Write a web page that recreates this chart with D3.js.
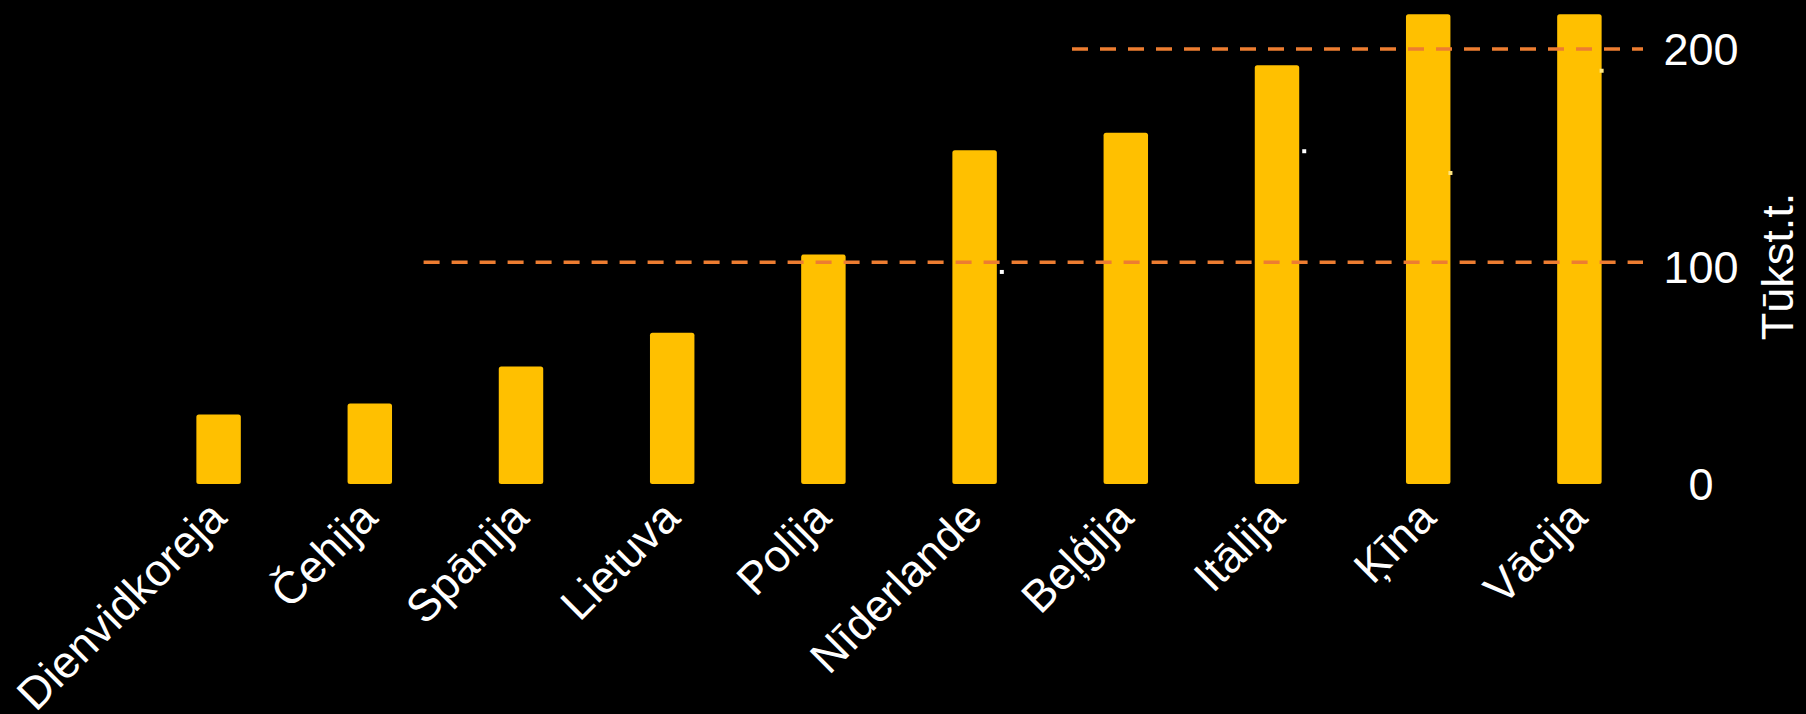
<!DOCTYPE html>
<html>
<head>
<meta charset="utf-8">
<script src="https://cdn.jsdelivr.net/npm/d3@7"></script>
<style>
  html, body { margin: 0; padding: 0; background: #000; }
  svg { display: block; }
</style>
</head>
<body>
<svg id="chart" width="1806" height="714"></svg>
<script>
const categories = ["Dienvidkoreja", "Čehija", "Spānija", "Lietuva", "Polija", "Nīderlande", "Beļģija", "Itālija", "Ķīna", "Vācija"];
const values = [32, 37, 54, 69.5, 105.5, 153.5, 161.5, 192.5, 216, 216];
const yTicks = [0, 100, 200];
const yTitle = "Tūkst.t.";
// reference lines: value and the category near which each starts
const refValues = [200, 102];
const refStart = ["Itālija", "Dienvidkoreja"];
// small marker dots seen beside some bars
const dotCats = ["Nīderlande", "Itālija", "Ķīna", "Vācija"];
const dotVals = [97.5, 153, 143, 190];
const dotColors = ["#ffffff", "#ffffff", "#ffe680", "#ffe680"];

const W = 1806, H = 714;
const svg = d3.select("#chart");
svg.append("rect").attr("width", W).attr("height", H).attr("fill", "#000");

const x = d3.scaleBand().domain(categories).range([143, 1655]).paddingInner(0.706).paddingOuter(0.353);
const y = d3.scaleLinear().domain([0, 200]).range([484, 49]);

const font = "'Liberation Sans', Arial, sans-serif";

// bars
svg.append("g").selectAll("rect").data(categories).join("rect")
  .attr("x", d => x(d))
  .attr("y", (d, i) => y(values[i]))
  .attr("width", x.bandwidth())
  .attr("height", (d, i) => y(0) - y(values[i]))
  .attr("rx", 2.5)
  .attr("fill", "#FFC000");

// dashed reference lines
svg.append("g").selectAll("line").data(refValues).join("line")
  .attr("x1", (d, i) => x(refStart[i]) + x.bandwidth() / 2 + (i === 0 ? -205 : 205))
  .attr("x2", 1643)
  .attr("y1", d => y(d)).attr("y2", d => y(d))
  .attr("stroke", "#ED7D31")
  .attr("stroke-width", 3.5)
  .attr("stroke-dasharray", "16 12");

// marker dots
svg.append("g").selectAll("rect").data(dotCats).join("rect")
  .attr("x", (d, i) => x(d) + x.bandwidth() + (i < 2 ? 3 : -2))
  .attr("y", (d, i) => y(dotVals[i]) - 2)
  .attr("width", 4).attr("height", 4)
  .attr("fill", (d, i) => dotColors[i]);

// y axis on right
const yAxis = d3.axisRight(y).tickValues(yTicks).tickSize(0).tickPadding(0);
const gy = svg.append("g").attr("transform", "translate(1701,0)").call(yAxis);
gy.select(".domain").remove();
gy.selectAll("text")
  .attr("fill", "#fff")
  .attr("font-family", font)
  .attr("font-size", 45)
  .attr("text-anchor", "middle")
  .attr("x", 0)
  .attr("dy", "0.35em");

// y title
svg.append("text")
  .attr("transform", `translate(1793,${(y(0) + y(200)) / 2}) rotate(-90)`)
  .attr("text-anchor", "middle")
  .attr("fill", "#fff")
  .attr("font-family", font)
  .attr("font-size", 45)
  .text(yTitle);

// x axis labels
const xAxis = d3.axisBottom(x).tickSize(0).tickPadding(0);
const gx = svg.append("g").call(xAxis);
gx.select(".domain").remove();
gx.selectAll(".tick").attr("transform", d => `translate(${x(d) + x.bandwidth() / 2 + 10},520)`);
gx.selectAll("text")
  .attr("fill", "#fff")
  .attr("font-family", font)
  .attr("font-size", 45)
  .attr("text-anchor", "end")
  .attr("y", 0).attr("dy", 0)
  .attr("transform", "rotate(-45)");
</script>
</body>
</html>
